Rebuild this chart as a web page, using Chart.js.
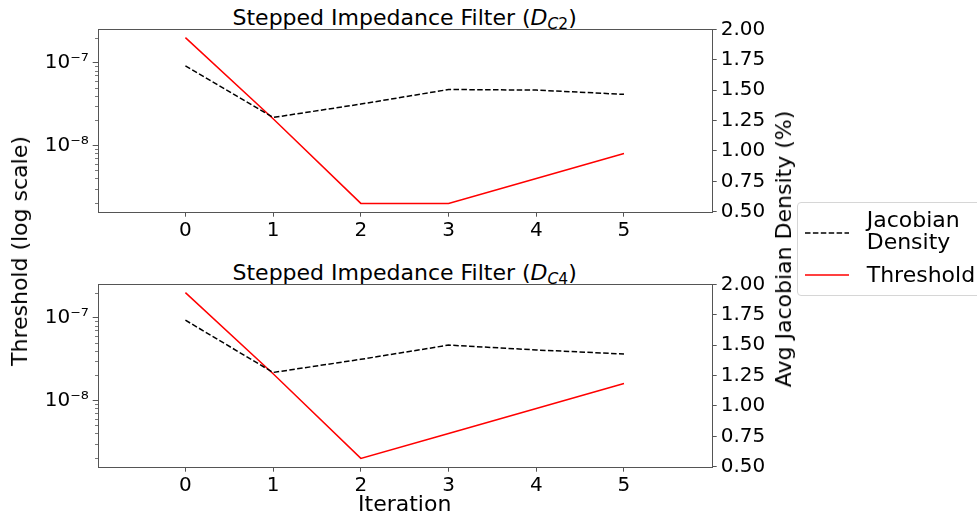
<!DOCTYPE html>
<html>
<head>
<meta charset="utf-8">
<title>Stepped Impedance Filter – threshold and Jacobian density</title>
<script src="https://cdn.jsdelivr.net/npm/chart.js@4.4.0/dist/chart.umd.min.js"></script>
<style>
  html, body { margin: 0; padding: 0; background: #fff; }
  body { width: 977px; height: 519px; position: relative; overflow: hidden;
         font-family: "DejaVu Sans", sans-serif; color: #000; }
  canvas.panel { position: absolute; left: 0; }
  .title { position: absolute; left: 97.7px; width: 614px; text-align: center;
           font-size: 22px; line-height: 22px; white-space: nowrap; }
  .title .sub { font-size: 15.5px; position: relative; top: 4px; }
  .axis-label { position: absolute; font-size: 22px; line-height: 22px; white-space: nowrap;
                transform: translate(-50%, -50%) rotate(-90deg); }
  #xlabel { position: absolute; left: 97.7px; width: 614px; text-align: center;
            font-size: 22px; line-height: 22px; top: 493px; }
  #legend { position: absolute; left: 796.7px; top: 201.7px; width: 200px; height: 92px;
            border: 1px solid #d6d6d6; border-radius: 4px; background: rgba(255,255,255,0.8); }
  #legend .key { position: absolute; left: 7px; }
  #legend .name { position: absolute; left: 69px; font-size: 22px; line-height: 22px;
                  white-space: pre-line; }
</style>
</head>
<body>
<div class="title" id="title0"></div>
<canvas class="panel" id="panel0" width="977" height="255" style="top:0px"></canvas>
<div class="title" id="title1"></div>
<canvas class="panel" id="panel1" width="977" height="255" style="top:255px"></canvas>
<div class="axis-label" id="ylabelLeft"></div>
<div class="axis-label" id="ylabelRight"></div>
<div id="xlabel"></div>
<div id="legend"></div>

<script>
// ---- data -----------------------------------------------------------
const iterations = [0, 1, 2, 3, 4, 5];
const xTicks = [0, 1, 2, 3, 4, 5];

// Threshold (left axis, log scale)
const thresholdC2 = [2e-7, 2.1e-8, 2e-9, 2e-9, 4e-9, 8e-9];
const thresholdC4 = [2e-7, 2.1e-8, 2e-9, 4e-9, 8e-9, 1.6e-8];

// Average Jacobian density in % (right axis)
const densityC2 = [1.70, 1.275, 1.385, 1.505, 1.50, 1.465];
const densityC4 = [1.705, 1.275, 1.383, 1.50, 1.46, 1.427];

const densityTicks = [0.5, 0.75, 1.0, 1.25, 1.5, 1.75, 2.0];
const densityRange = [0.5, 2.0];
const logMajorTicks = [1e-8, 1e-7];
const logMajorLabels = ['10\u207B\u2078', '10\u207B\u2077'];

const panelSubscripts = ['C2', 'C4'];
const titleText = 'Stepped Impedance Filter';
const seriesNames = ['Jacobian\nDensity', 'Threshold'];
const xAxisTitle = 'Iteration';
const leftAxisTitle = 'Threshold (log scale)';
const rightAxisTitle = 'Avg Jacobian Density (%)';

// ---- styling ----------------------------------------------------------
const FONT = 'DejaVu Sans';
const AXIS_COLOR = '#555';
const RED = '#ff0000';
const BLACK = '#000000';
const DASH = [5.5, 2.4];
Chart.defaults.font.family = FONT;
Chart.defaults.color = '#000';

// plot area inside each 977x255 panel canvas
const AREA = { left: 97.7, right: 711.7, top: 29.3, bottom: 211.7 };
const CANVAS_W = 977, CANVAS_H = 255;

// log-axis range with a 5% margin in log space
function logRange(values) {
  const lo = Math.log10(Math.min(...values));
  const hi = Math.log10(Math.max(...values));
  const pad = (hi - lo) * 0.05;
  return [Math.pow(10, lo - pad), Math.pow(10, hi + pad)];
}

function logTicks(min, max) {
  const ticks = [];
  for (let e = Math.floor(Math.log10(min)); e <= Math.ceil(Math.log10(max)); e++) {
    for (let m = 1; m <= 9; m++) {
      const v = m * Math.pow(10, e);
      if (v >= min && v <= max) {
        const k = logMajorTicks.findIndex(t => Math.abs(t - v) / t < 1e-9);
        ticks.push({ value: k >= 0 ? logMajorTicks[k] : v, isMajorTick: k >= 0 });
      }
    }
  }
  return ticks;
}

// frame + short minor ticks on the log axis
const axisDecor = {
  id: 'axisDecor',
  afterDraw(chart) {
    const { ctx, chartArea: a, scales } = chart;
    ctx.save();
    ctx.strokeStyle = AXIS_COLOR;
    ctx.lineWidth = 1;
    ctx.strokeRect(Math.round(a.left) + 0.5, Math.round(a.top) + 0.5,
                   Math.round(a.right) - Math.round(a.left), Math.round(a.bottom) - Math.round(a.top));
    const ys = scales.y;
    ctx.lineWidth = 0.8;
    ys.ticks.forEach(t => {
      if (!logMajorTicks.includes(t.value)) {
        const py = Math.round(ys.getPixelForValue(t.value)) + 0.5;
        ctx.beginPath();
        ctx.moveTo(Math.round(a.left), py);
        ctx.lineTo(Math.round(a.left) - 3, py);
        ctx.stroke();
      }
    });
    ctx.restore();
  }
};

function makePanel(canvasId, threshold, density) {
  const [lmin, lmax] = logRange(threshold);
  const tickFont = { family: FONT, size: 20 };
  return new Chart(document.getElementById(canvasId), {
    type: 'line',
    data: {
      datasets: [
        {
          label: seriesNames[0],
          data: iterations.map((x, i) => ({ x, y: density[i] })),
          yAxisID: 'y1',
          borderColor: BLACK, borderWidth: 1.5, borderDash: DASH,
          pointRadius: 0, fill: false, tension: 0
        },
        {
          label: seriesNames[1],
          data: iterations.map((x, i) => ({ x, y: threshold[i] })),
          yAxisID: 'y',
          borderColor: RED, borderWidth: 1.5,
          pointRadius: 0, fill: false, tension: 0
        }
      ]
    },
    options: {
      responsive: false, animation: false, events: [],
      layout: { padding: { top: AREA.top, left: 0, right: 0, bottom: 0 } },
      plugins: { legend: { display: false }, tooltip: { enabled: false }, title: { display: false } },
      scales: {
        x: {
          type: 'linear', min: -1, max: 6,
          afterBuildTicks: s => { s.ticks = xTicks.map(v => ({ value: v })); },
          afterFit: s => { s.height = CANVAS_H - AREA.bottom; },
          border: { display: false },
          grid: { display: true, drawOnChartArea: false, drawTicks: true, tickLength: 5,
                  tickColor: AXIS_COLOR, tickWidth: 1 },
          ticks: { font: tickFont, color: '#000', padding: 2, maxRotation: 0, autoSkip: false,
                   callback: v => String(v) }
        },
        y: {
          type: 'logarithmic', position: 'left', min: lmin, max: lmax,
          afterBuildTicks: s => { s.ticks = logTicks(lmin, lmax); },
          afterFit: s => { s.width = AREA.left; },
          border: { display: false },
          grid: { display: true, drawOnChartArea: false, drawTicks: true, tickLength: 5, tickWidth: 1,
                  tickColor: c => (c.tick && logMajorTicks.includes(c.tick.value)) ? AXIS_COLOR : 'rgba(0,0,0,0)' },
          ticks: { font: tickFont, color: '#000', padding: 4, autoSkip: false,
                   callback: v => { const k = logMajorTicks.indexOf(v); return k >= 0 ? logMajorLabels[k] : ''; } }
        },
        y1: {
          type: 'linear', position: 'right', min: densityRange[0], max: densityRange[1],
          afterBuildTicks: s => { s.ticks = densityTicks.map(v => ({ value: v })); },
          afterFit: s => { s.width = CANVAS_W - AREA.right; },
          border: { display: false },
          grid: { display: true, drawOnChartArea: false, drawTicks: true, tickLength: 5,
                  tickColor: AXIS_COLOR, tickWidth: 1 },
          ticks: { font: tickFont, color: '#000', padding: 4, autoSkip: false,
                   callback: v => Number(v).toFixed(2) }
        }
      }
    },
    plugins: [axisDecor]
  });
}

makePanel('panel0', thresholdC2, densityC2);
makePanel('panel1', thresholdC4, densityC4);

// ---- text around the plots ------------------------------------------
function setTitle(id, sub, top) {
  const el = document.getElementById(id);
  el.style.top = top + 'px';
  el.innerHTML = titleText + ' (<i>D</i><span class="sub"><i>' + sub[0] + '</i>' + sub.slice(1) + '</span>)';
}
setTitle('title0', panelSubscripts[0], 7.4);
setTitle('title1', panelSubscripts[1], 262.4);

const yl = document.getElementById('ylabelLeft');
yl.textContent = leftAxisTitle;
yl.style.left = '20px'; yl.style.top = '251px';
const yr = document.getElementById('ylabelRight');
yr.textContent = rightAxisTitle;
yr.style.left = '784px'; yr.style.top = '248.5px';
document.getElementById('xlabel').textContent = xAxisTitle;

// legend
const legend = document.getElementById('legend');
const legendRows = [
  { name: seriesNames[0], color: BLACK, dash: DASH.join(' '), lineY: 30.6, textTop: 6.4 },
  { name: seriesNames[1], color: RED, dash: 'none', lineY: 72.6, textTop: 61.4 }
];
legendRows.forEach(r => {
  const key = document.createElementNS('http://www.w3.org/2000/svg', 'svg');
  key.setAttribute('class', 'key');
  key.setAttribute('width', '44'); key.setAttribute('height', '6');
  key.style.top = (r.lineY - 3) + 'px';
  const ln = document.createElementNS('http://www.w3.org/2000/svg', 'line');
  ln.setAttribute('x1', '0'); ln.setAttribute('x2', '44');
  ln.setAttribute('y1', '3'); ln.setAttribute('y2', '3');
  ln.setAttribute('stroke', r.color); ln.setAttribute('stroke-width', '1.5');
  if (r.dash !== 'none') ln.setAttribute('stroke-dasharray', r.dash);
  key.appendChild(ln);
  legend.appendChild(key);
  const t = document.createElement('div');
  t.className = 'name';
  t.style.top = r.textTop + 'px';
  t.textContent = r.name;
  legend.appendChild(t);
});
</script>
</body>
</html>
